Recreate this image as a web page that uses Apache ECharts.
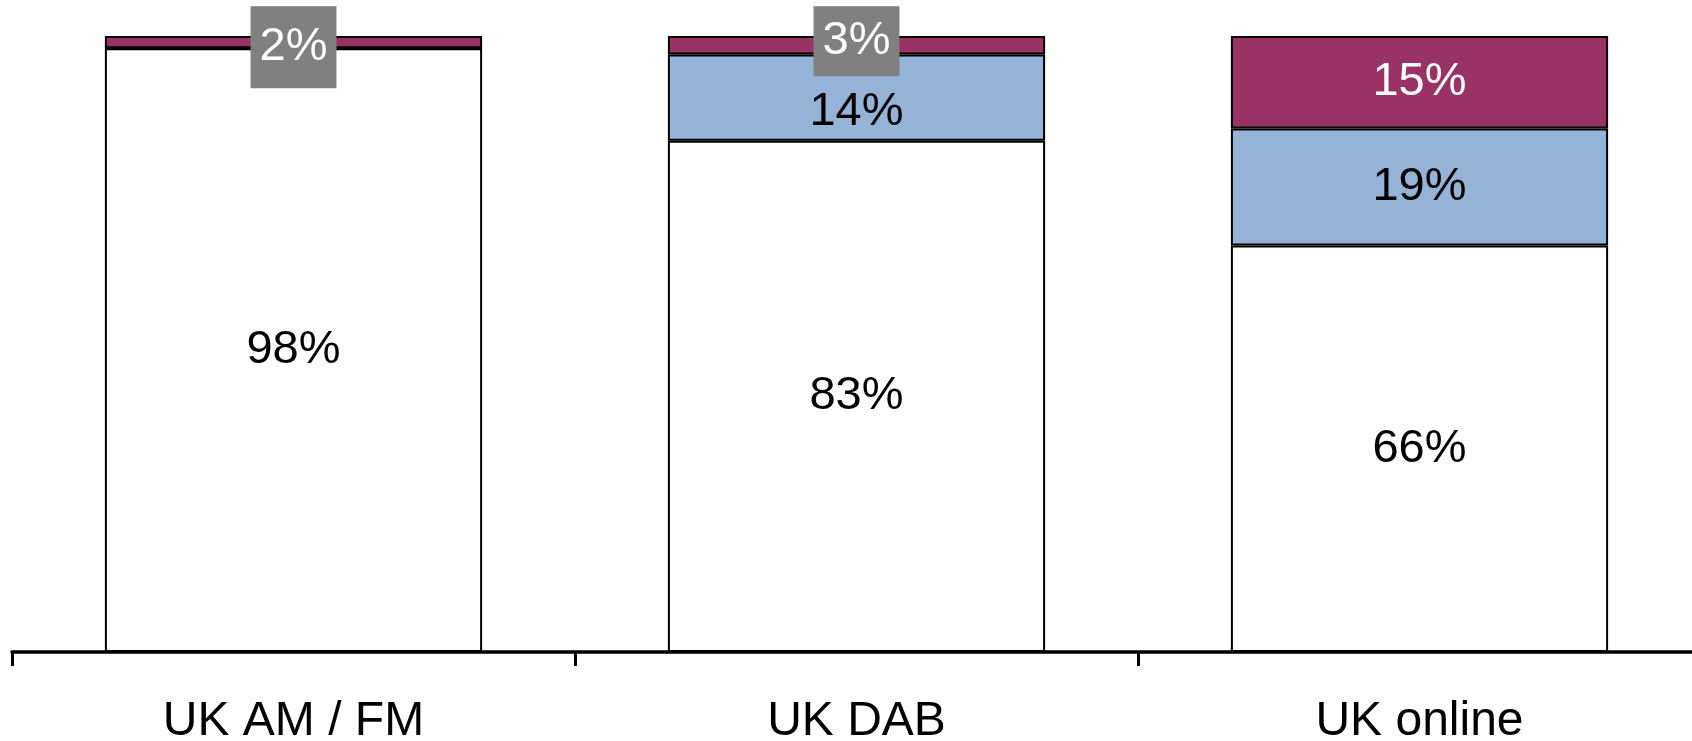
<!DOCTYPE HTML>
<html>
<head>
	<meta http-equiv="Content-Type" content="text/html; charset=utf-8">
	<title>UK radio platforms</title>
	<style>
		body, html { margin: 0; padding: 0; width: 100%; height: 100%; background: #fff; }
		#main { width: 1692px; height: 741px; }
	</style>
	<script src="https://cdn.jsdelivr.net/npm/echarts@6/dist/echarts.min.js"></script>
</head>
<body>
	<div id="main"></div>
	<script>
		var categories = ['UK AM / FM', 'UK DAB', 'UK online'];
		var whiteVals = [98, 83, 66];
		var blueVals = [0, 14, 19];
		var redVals = [2, 3, 15];

		var font = '"Liberation Sans", Arial, sans-serif';

		function pct(p) {
			return p.value ? p.value + '%' : '';
		}

		// small red slices get a grey callout box like the original
		var calloutStyle = [
			{ padding: [14, 9, 22, 9], offset: [0, 5] },
			{ padding: [0, 9, 24, 9], offset: [0, -4] }
		];
		var redData = redVals.map(function (v, i) {
			if (v < 5) {
				var c = calloutStyle[i] || calloutStyle[0];
				return {
					value: v,
					label: {
						backgroundColor: '#808080',
						lineHeight: 46,
						padding: c.padding,
						offset: c.offset
					}
				};
			}
			return v;
		});
		// push the blue label down a bit when a callout sits above it
		var blueData = blueVals.map(function (v, i) {
			if (redVals[i] < 5 && v > 0) {
				return { value: v, label: { offset: [0, 14] } };
			}
			return v;
		});

		var myChart = echarts.init(document.getElementById('main'));
		myChart.setOption({
			animation: false,
			grid: { left: 12, right: -9, top: 36, bottom: 89, outerBoundsMode: 'none', containLabel: false },
			xAxis: {
				type: 'category',
				data: categories,
				axisLine: { show: true, lineStyle: { color: '#000', width: 3.5 } },
				axisTick: { show: true, length: 14, lineStyle: { color: '#000', width: 3 } },
				axisLabel: { color: '#000', fontSize: 48, fontFamily: font, margin: 46 }
			},
			yAxis: {
				type: 'value',
				min: 0,
				max: 100,
				show: false,
				splitLine: { show: false }
			},
			series: [
				{
					name: 'white',
					type: 'bar',
					stack: 'a',
					barWidth: '67%',
					data: whiteVals,
					itemStyle: { color: '#fff', borderColor: '#000', borderWidth: 2 },
					label: { show: true, position: 'inside', formatter: pct, color: '#000', fontSize: 47, fontFamily: font }
				},
				{
					name: 'blue',
					type: 'bar',
					stack: 'a',
					data: blueData,
					itemStyle: { color: '#95B3D7', borderColor: '#000', borderWidth: 2 },
					label: { show: true, position: 'inside', formatter: pct, color: '#000', fontSize: 47, fontFamily: font }
				},
				{
					name: 'red',
					type: 'bar',
					stack: 'a',
					data: redData,
					itemStyle: { color: '#993366', borderColor: '#000', borderWidth: 2 },
					label: { show: true, position: 'inside', formatter: pct, color: '#fff', fontSize: 47, fontFamily: font }
				}
			]
		});
	</script>
</body>
</html>
